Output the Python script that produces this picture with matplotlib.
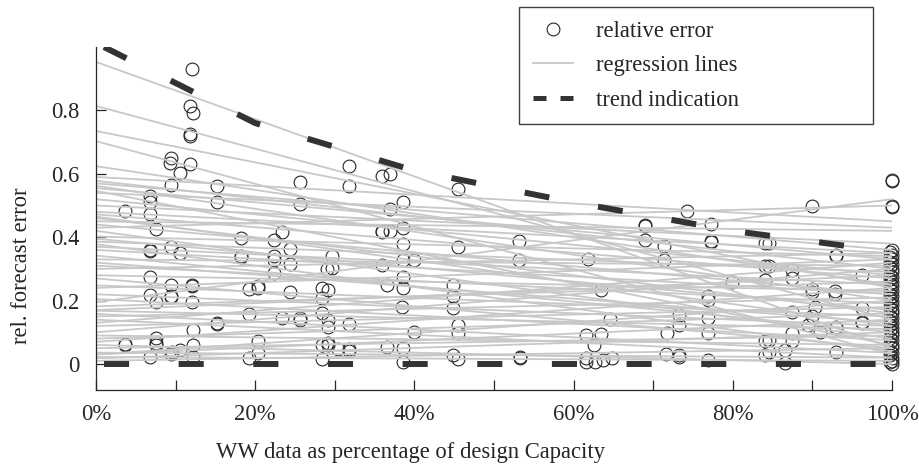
import matplotlib
matplotlib.use("Agg")
import matplotlib.pyplot as plt
from matplotlib.lines import Line2D

plt.rcParams["font.family"] = ["Liberation Serif", "DejaVu Serif"]

INK, GREY, TREND = "#262626", "#c8c8c8", "#333333"

# relative forecast error per plant (x = share of design capacity)
err_x = [0.121, 0.118, 0.122, 0.118, 0.118, 0.094, 0.093, 0.118, 0.105, 0.094,
         0.152, 0.152, 0.068, 0.068, 0.068, 0.036, 0.076, 0.068, 0.068, 0.094,
         0.105, 0.068, 0.094, 0.120, 0.120, 0.068, 0.094, 0.094, 0.076, 0.120,
         0.152, 0.152, 0.122, 0.076, 0.036, 0.036, 0.076, 0.076, 0.122, 0.095,
         0.105, 0.068, 0.122, 0.094,
         0.318, 0.318, 0.256, 0.256, 0.182, 0.182, 0.182, 0.223, 0.234, 0.223,
         0.223, 0.244, 0.244, 0.223, 0.297, 0.290, 0.297, 0.192, 0.204, 0.204,
         0.244, 0.284, 0.292, 0.284, 0.192, 0.234, 0.256, 0.256, 0.284, 0.292,
         0.318, 0.292, 0.204, 0.204, 0.192, 0.284, 0.292, 0.292, 0.304, 0.318,
         0.318, 0.284,
         0.359, 0.369, 0.455, 0.386, 0.369, 0.359, 0.369, 0.359, 0.386, 0.386,
         0.455, 0.386, 0.399, 0.386, 0.359, 0.365, 0.386, 0.449, 0.449, 0.384,
         0.449, 0.455, 0.455, 0.399, 0.365, 0.386, 0.386, 0.449, 0.455,
         0.531, 0.531, 0.533, 0.533, 0.618, 0.635, 0.646, 0.616, 0.635, 0.625,
         0.616, 0.627, 0.637, 0.648, 0.616,
         0.743, 0.690, 0.690, 0.690, 0.713, 0.713, 0.773, 0.773, 0.773, 0.799,
         0.840, 0.840, 0.840, 0.769, 0.769, 0.769, 0.769, 0.732, 0.732, 0.717,
         0.732, 0.732, 0.769, 0.716, 0.840, 0.840,
         0.899, 0.930, 0.930, 0.845, 0.845, 0.874, 0.874, 0.962, 0.899, 0.899,
         0.928, 0.928, 0.903, 0.899, 0.962, 0.962, 0.962, 0.874, 0.874, 0.895,
         0.910, 0.930, 0.930, 0.930, 0.845, 0.845, 0.866, 0.866, 0.874,
         1.0, 1.0, 1.0, 1.0, 1.0, 1.0, 1.0, 1.0, 1.0, 1.0, 1.0, 1.0, 1.0, 1.0,
         1.0, 1.0, 1.0, 1.0, 1.0, 1.0, 1.0, 1.0, 1.0, 1.0, 1.0, 1.0, 1.0, 1.0,
         1.0, 1.0, 1.0,
         0.998, 0.998, 0.998, 0.998, 0.998, 0.998, 0.998, 0.998, 0.998, 0.998,
         0.998, 0.998, 0.998, 0.998, 0.998, 0.998, 0.998, 0.998, 0.998, 0.998,
         0.998]
err_y = [0.930, 0.814, 0.793, 0.725, 0.718, 0.651, 0.635, 0.630, 0.603, 0.564,
         0.561, 0.511, 0.530, 0.510, 0.472, 0.482, 0.426, 0.361, 0.355, 0.368,
         0.350, 0.276, 0.250, 0.250, 0.245, 0.218, 0.215, 0.210, 0.197, 0.197,
         0.129, 0.125, 0.108, 0.081, 0.063, 0.059, 0.065, 0.060, 0.060, 0.039,
         0.044, 0.023, 0.023, 0.030,
         0.624, 0.561, 0.575, 0.505, 0.396, 0.340, 0.336, 0.390, 0.417, 0.340,
         0.329, 0.364, 0.316, 0.287, 0.342, 0.300, 0.302, 0.236, 0.245, 0.240,
         0.226, 0.239, 0.232, 0.208, 0.158, 0.144, 0.144, 0.139, 0.160, 0.139,
         0.127, 0.118, 0.071, 0.034, 0.018, 0.015, 0.065, 0.060, 0.046, 0.046,
         0.040, 0.060,
         0.593, 0.598, 0.551, 0.512, 0.490, 0.419, 0.419, 0.415, 0.429, 0.377,
         0.369, 0.329, 0.329, 0.274, 0.311, 0.250, 0.239, 0.250, 0.213, 0.181,
         0.176, 0.123, 0.097, 0.102, 0.055, 0.050, 0.007, 0.028, 0.015,
         0.387, 0.329, 0.023, 0.019, 0.331, 0.232, 0.141, 0.092, 0.095, 0.060,
         0.018, 0.007, 0.013, 0.018, 0.007,
         0.482, 0.440, 0.434, 0.392, 0.371, 0.329, 0.443, 0.387, 0.385, 0.260,
         0.382, 0.308, 0.266, 0.213, 0.203, 0.144, 0.097, 0.155, 0.123, 0.097,
         0.028, 0.023, 0.013, 0.030, 0.071, 0.028,
         0.498, 0.345, 0.340, 0.382, 0.308, 0.297, 0.271, 0.282, 0.236, 0.227,
         0.229, 0.221, 0.181, 0.150, 0.176, 0.134, 0.130, 0.165, 0.097, 0.123,
         0.102, 0.118, 0.115, 0.039, 0.076, 0.039, 0.044, 0.002, 0.071,
         0.582, 0.578, 0.498, 0.494, 0.360, 0.345, 0.330, 0.315, 0.300, 0.290,
         0.275, 0.260, 0.245, 0.230, 0.215, 0.200, 0.185, 0.170, 0.160, 0.145,
         0.130, 0.115, 0.100, 0.090, 0.075, 0.060, 0.050, 0.035, 0.020, 0.010,
         0.000,
         0.005, 0.027, 0.042, 0.067, 0.082, 0.107, 0.122, 0.137, 0.152, 0.177,
         0.192, 0.207, 0.222, 0.237, 0.252, 0.267, 0.282, 0.307, 0.322, 0.337,
         0.352]

# regression lines: fitted error at 0 % and at 100 % of design capacity
reg_start = [0.953, 0.814, 0.735, 0.703, 0.624,
             0.590, 0.578, 0.570, 0.562, 0.555, 0.546, 0.540, 0.520, 0.500,
             0.480, 0.472, 0.465, 0.460, 0.450, 0.440, 0.430, 0.420,
             0.402, 0.395, 0.386, 0.378, 0.370, 0.360,
             0.342, 0.330, 0.320, 0.310, 0.300, 0.280, 0.270, 0.248, 0.240,
             0.220, 0.205, 0.195, 0.182, 0.170, 0.168, 0.158, 0.150, 0.140,
             0.130, 0.120,
             0.100, 0.090, 0.080, 0.070, 0.060, 0.050,
             0.036, 0.030, 0.030, 0.022, 0.018, 0.010]
reg_end = [0.050, 0.140, 0.240, 0.030, 0.250,
           0.450, 0.300, 0.360, 0.200, 0.330, 0.060, 0.430, 0.280, 0.380,
           0.350, 0.270, 0.120, 0.160, 0.420, 0.220, 0.500, 0.080,
           0.340, 0.170, 0.290, 0.040, 0.250, 0.220,
           0.100, 0.310, 0.130, 0.190, 0.350, 0.230, 0.050, 0.150, 0.330,
           0.120, 0.075, 0.520, 0.260, 0.280, 0.110, 0.035, 0.210, 0.020,
           0.320, 0.180,
           0.300, 0.060, 0.160, 0.240, 0.000, 0.090,
           0.020, 0.200, 0.140, 0.010, 0.100, 0.050]

# hand-drawn trend envelope
trend_x = [0.01, 0.2, 0.4, 0.6, 0.8, 0.95]
trend_y = [1.0, 0.76, 0.61, 0.51, 0.42, 0.37]
floor_x = [0.01, 1.0]
floor_y = [0.0, 0.0]

xticks = [0, 0.2, 0.4, 0.6, 0.8, 1.0]
xticklabels = ["0%", "20%", "40%", "60%", "80%", "100%"]
yticks = [0, 0.2, 0.4, 0.6, 0.8]
yticklabels = ["0", "0.2", "0.4", "0.6", "0.8"]

fig = plt.figure(figsize=(9.19, 4.66), dpi=100)
ax = fig.add_axes([96 / 919, 76 / 466, 796 / 919, 343 / 466])

ax.plot(err_x, err_y, linestyle="none", marker="o", markersize=9.2,
        markerfacecolor="none", markeredgecolor=INK, markeredgewidth=0.8,
        clip_on=False, zorder=1)
for a, b in zip(reg_start, reg_end):
    ax.plot([0, 1], [a, b], color=GREY, linewidth=1.3, zorder=2)

dash = (0, (4.2, 8.3))
ax.plot(trend_x, trend_y, color=TREND, linewidth=4.3, linestyle=dash, zorder=3)
ax.plot(floor_x, floor_y, color=TREND, linewidth=4.3, linestyle=dash, zorder=3)

ax.set_xlim(0, 1)
ax.set_ylim(-0.082, 1.0)
ax.set_xticks(xticks)
ax.set_xticklabels(xticklabels)
ax.set_xticks([0.1, 0.3, 0.5, 0.7, 0.9], minor=True)
ax.set_yticks(yticks)
ax.set_yticklabels(yticklabels)
ax.tick_params(axis="both", which="both", direction="in", length=7, width=0.9,
               color=INK, labelcolor=INK, labelsize=16.3)
ax.tick_params(axis="x", pad=10)
ax.tick_params(axis="y", pad=12)
for side in ("top", "right"):
    ax.spines[side].set_visible(False)
for side in ("left", "bottom"):
    ax.spines[side].set_color(INK)
    ax.spines[side].set_linewidth(0.9)

ax.set_xlabel("WW data as percentage of design Capacity", fontsize=16.3, color=INK)
ax.xaxis.set_label_coords((411 - 96) / 796, -0.153)
ax.set_ylabel("rel. forecast error", fontsize=16.3, color=INK)
ax.yaxis.set_label_coords(-0.081, 0.361)

handles = [
    Line2D([], [], linestyle="none", marker="o", markersize=9.2,
           markerfacecolor="none", markeredgecolor=INK, markeredgewidth=0.8),
    Line2D([], [], color=GREY, linewidth=1.3),
    Line2D([], [], color=TREND, linewidth=3.6, linestyle=(0, (2.6, 2.8))),
]
labels = ["relative error", "regression lines", "trend indication"]
leg = fig.legend(handles, labels, loc="upper left",
                 bbox_to_anchor=(519 / 919, 1 - 7 / 466, 354 / 919, 0),
                 mode="expand", borderaxespad=0, fontsize=16.3, frameon=True,
                 fancybox=False, framealpha=1, edgecolor="#404040",
                 handlelength=1.8, handletextpad=1.0, borderpad=0.6,
                 labelspacing=0.6, labelcolor=INK)
leg.get_frame().set_linewidth(1.0)

fig.savefig("out.png", dpi=100)
